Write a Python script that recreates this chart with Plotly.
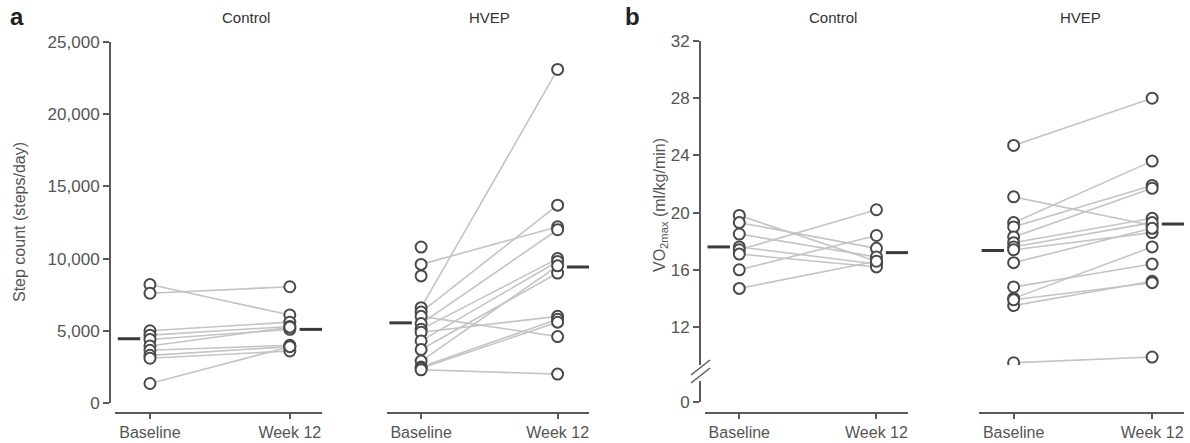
import plotly.graph_objects as go

# ---------------- data ----------------
groups = ["Control", "HVEP"]
timepoints = ["Baseline", "Week 12"]

# Panel a: step count (steps/day) — paired subjects
steps_ctrl_base = [8200, 7600, 5000, 4700, 4400, 3950, 3650, 3300, 3100, 1350]
steps_ctrl_w12 = [6100, 8050, 5600, 5300, 5100, 5250, 4000, 3900, 3600, 3900]
steps_hvep_base = [6600, 6300, 9600, 6000, 5500, 5100, 4900, 4300, 3700, 2900, 2500, 2400, 2300]
steps_hvep_w12 = [23100, 13700, 12200, 4600, 12000, 10000, 6000, 9800, 9000, 9500, 5800, 5600, 2000]
steps_hvep_base_only = [10800, 8800]          # baseline values without week-12 data
steps_means_ctrl = [4450, 5100]
steps_means_hvep = [5550, 9420]

# Panel b: VO2max (ml/kg/min)
vo2_ctrl_base = [19.8, 19.3, 18.5, 17.6, 17.4, 17.1, 16.0, 14.7]
vo2_ctrl_w12 = [16.6, 17.5, 16.9, 16.4, 20.2, 16.2, 18.4, 16.6]
vo2_hvep_base = [24.7, 21.1, 19.3, 19.0, 18.3, 17.9, 17.6, 17.4, 16.5, 14.8, 14.0, 13.5, 13.9, 9.5]
vo2_hvep_w12 = [28.0, 19.1, 23.6, 21.9, 21.7, 19.6, 19.3, 18.6, 18.9, 16.4, 17.6, 15.2, 15.1, 9.9]
vo2_means_ctrl = [17.6, 17.2]
vo2_means_hvep = [17.35, 19.2]

steps_ticks = [0, 5000, 10000, 15000, 20000, 25000]
vo2_ticks = [12, 16, 20, 24, 28, 32]

# ---------------- styling ----------------
W, H = 1190, 443
FONT = "Liberation Sans, Arial, sans-serif"
AX = "#5a5a5a"
TXT = "#555555"
LINE_C = "#c4c4c4"
PT_C = "#4a4a4a"
MEAN_OFF = 0.15


def fx(px):
    return px / W


def fy(py):
    return 1 - py / H


fig = go.Figure()


def add_group(base, w12, base_only, means, xa, ya):
    xs, ys = [], []
    for b, w in zip(base, w12):
        xs += [0, 1, None]
        ys += [b, w, None]
    fig.add_trace(go.Scatter(x=xs, y=ys, mode="lines", xaxis=xa, yaxis=ya,
                             line=dict(color=LINE_C, width=1.6),
                             hoverinfo="skip", showlegend=False))
    allb = list(base) + list(base_only)
    fig.add_trace(go.Scatter(x=[0] * len(allb) + [1] * len(w12), y=allb + list(w12),
                             mode="markers", xaxis=xa, yaxis=ya,
                             marker=dict(symbol="circle", size=11, color="white",
                                         line=dict(color=PT_C, width=2)),
                             showlegend=False))
    fig.add_trace(go.Scatter(x=[0 - MEAN_OFF, 1 + MEAN_OFF], y=means, mode="markers",
                             xaxis=xa, yaxis=ya,
                             marker=dict(symbol="line-ew", size=16,
                                         line=dict(color="#3a3a3a", width=3)),
                             showlegend=False))


add_group(steps_ctrl_base, steps_ctrl_w12, [], steps_means_ctrl, "x", "y")
add_group(steps_hvep_base, steps_hvep_w12, steps_hvep_base_only, steps_means_hvep, "x2", "y")
add_group(vo2_ctrl_base, vo2_ctrl_w12, [], vo2_means_ctrl, "x3", "y3")
add_group(vo2_hvep_base, vo2_hvep_w12, [], vo2_means_hvep, "x4", "y3")
# invisible trace so the lower (broken) axis segment is rendered
fig.add_trace(go.Scatter(x=[0], y=[0], xaxis="x3", yaxis="y4", mode="markers",
                         marker=dict(opacity=0), hoverinfo="skip", showlegend=False))

tickfont = dict(family=FONT, size=16, color=TXT)
ytickfont = dict(family=FONT, size=17, color=TXT)
xcommon = dict(range=[-0.25, 1.23], tickvals=[0, 1], ticktext=timepoints, showline=True,
               linecolor=AX, linewidth=2, ticks="outside", ticklen=5, tickwidth=1.5,
               tickcolor=AX, showgrid=False, zeroline=False, anchor="free",
               position=fy(413), tickfont=tickfont, fixedrange=True, automargin=False)
ycommon = dict(showline=True, linecolor=AX, linewidth=2, ticks="outside", ticklen=6,
               tickwidth=1.5, tickcolor=AX, showgrid=False, zeroline=False,
               anchor="free", tickfont=ytickfont, fixedrange=True, automargin=False)

v_per_px = (32 - 12) / (327 - 41)

fig.update_layout(
    template="none",
    width=W, height=H, margin=dict(l=0, r=0, t=0, b=0, pad=0, autoexpand=False),
    plot_bgcolor="white", paper_bgcolor="white", showlegend=False,
    font=dict(family=FONT, color=TXT),
    xaxis=dict(domain=[fx(115), fx(322)], **xcommon),
    xaxis2=dict(domain=[fx(387), fx(589)], **xcommon),
    xaxis3=dict(domain=[fx(705), fx(908)], **xcommon),
    xaxis4=dict(domain=[fx(979), fx(1184)], **xcommon),
    yaxis=dict(domain=[fy(403), fy(42)], range=[0, 25000], tickvals=steps_ticks,
               tickformat=",", position=fx(110), **ycommon),
    yaxis3=dict(domain=[fy(365), fy(41)], range=[32 - (365 - 41) * v_per_px, 32],
                tickvals=vo2_ticks, position=fx(700), **ycommon),
    yaxis4=dict(domain=[fy(402), fy(381)], range=[0, (402 - 381) * v_per_px],
                tickvals=[0], position=fx(700), **ycommon),
)

# axis titles
fig.add_annotation(text="Step count (steps/day)", x=fx(19), y=fy(222), xref="paper", yref="paper",
                   xanchor="center", yanchor="middle", textangle=-90, showarrow=False,
                   font=dict(family=FONT, size=16, color=TXT))
fig.add_annotation(text="VO<sub>2max</sub> (ml/kg/min)", x=fx(660), y=fy(205), xref="paper",
                   yref="paper", xanchor="center", yanchor="middle", textangle=-90,
                   showarrow=False, font=dict(family=FONT, size=16, color=TXT))

# axis-break slashes
for dy in (0, 8):
    fig.add_shape(type="line", xref="paper", yref="paper",
                  x0=fx(691), y0=fy(375 + dy), x1=fx(710), y1=fy(360 + dy),
                  line=dict(color=AX, width=1.5))

# subplot titles & panel letters
for txt, px in [("Control", 246), ("HVEP", 489), ("Control", 833), ("HVEP", 1080)]:
    fig.add_annotation(text=txt, x=fx(px), y=fy(18), xref="paper", yref="paper",
                       xanchor="center", yanchor="middle",
                       showarrow=False, font=dict(family=FONT, size=15, color="#333333"))
for txt, px in [("a", 17), ("b", 632)]:
    fig.add_annotation(text="<b>%s</b>" % txt, x=fx(px), y=fy(16), xref="paper", yref="paper",
                       xanchor="center", yanchor="middle",
                       showarrow=False, font=dict(family=FONT, size=24, color="#222222"))

fig.write_html("out.html", config={"displayModeBar": False},
               post_script="document.body.style.margin='0px';"
               "document.body.style.overflow='hidden';")
